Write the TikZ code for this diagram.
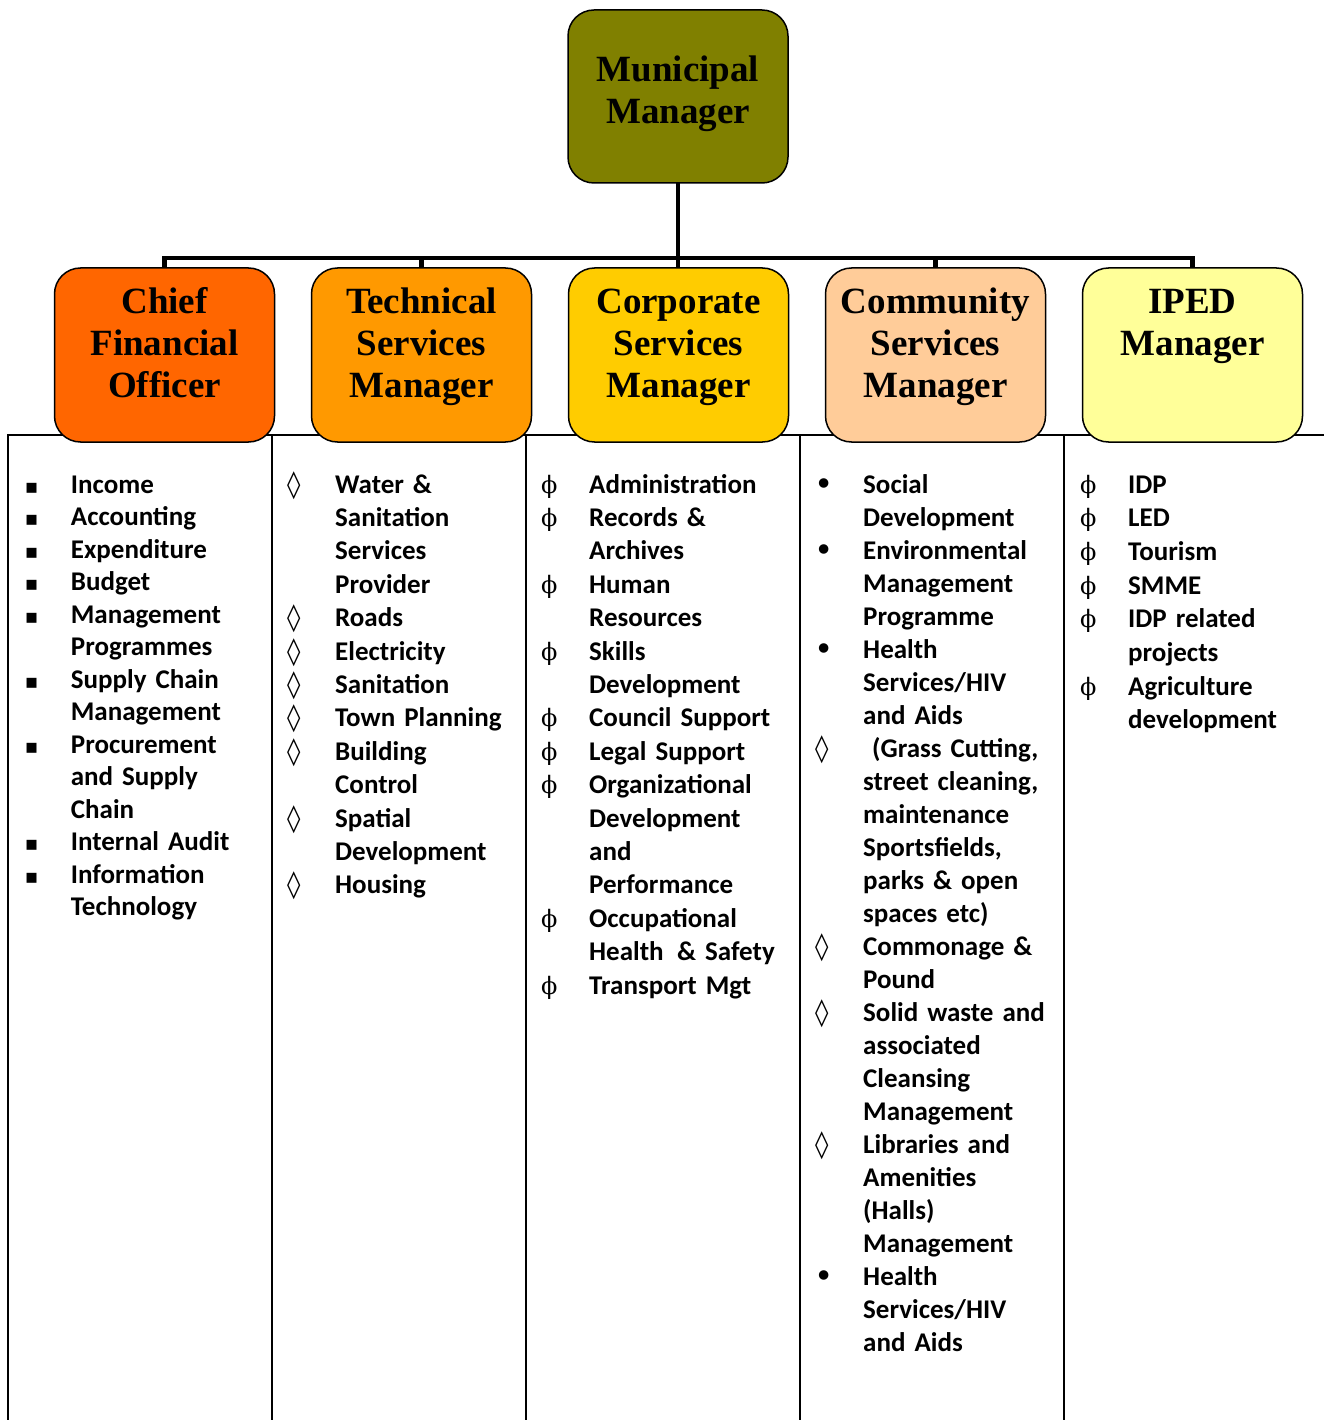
\documentclass[tikz,border=0pt]{standalone}
\usepackage{fontspec}
\setmainfont{Carlito}
\newfontfamily\titlefont{Liberation Serif}
\newfontfamily\symfont{DejaVu Sans}
\newfontfamily\phifont{DejaVu Serif}
\usetikzlibrary{positioning}

\definecolor{mmolive}{HTML}{808000}
\definecolor{cfoorange}{HTML}{FF6600}
\definecolor{tsmorange}{HTML}{FF9900}
\definecolor{csmgold}{HTML}{FFCC00}
\definecolor{cosmpeach}{HTML}{FFCC99}
\definecolor{ipedyellow}{HTML}{FFFF99}

% bullets hang left of the text
\newcommand\bu[2][48pt]{\leavevmode\llap{\makebox[#1][l]{#2}}}
\newcommand\sqb{\bu[46pt]{{\symfont\fontsize{20}{20}\selectfont ▪}}}
\newcommand\lzb{\bu{{\symfont\mdseries ◊}}}
\newcommand\phb{\bu{{\phifont\mdseries\fontsize{24}{24}\selectfont ϕ}}}
\newcommand\dtb{\bu{{\symfont •}}}

\tikzset{
  unit/.style={draw, line width=1.5pt, outer sep=0pt, rounded corners=26pt, minimum width=220pt,
    text width=220pt, inner sep=0pt, align=center, text height=45pt, text depth=129pt,
    font=\titlefont\bfseries\fontsize{37}{42}\selectfont},
  link/.style={line width=4.5pt},
  grid/.style={line width=2.5pt},
  duties/.style={anchor=base west, text width=240pt, align=left, inner sep=0pt}
}

\begin{document}
\begin{tikzpicture}[x=1pt, y=-1pt]
    \useasboundingbox (0,0) rectangle (1324,1420);

    % table under the managers
    \draw[grid] (8,1420) -- (8,435) -- (1324,435);
    \foreach \x in {272, 526, 800, 1064}
        \draw[grid] (\x,435) -- (\x,1420);

    % managers
    \node[unit, fill=mmolive, anchor=north, text height=72pt, text depth=101pt] (mm) at (678,10) {Municipal\\Manager};

    \node[unit, fill=cfoorange, anchor=north] (cfo) at (164.5,268) {Chief\\Financial\\Officer};
    \node[unit, fill=tsmorange, right=37pt of cfo] (tsm) {Technical\\Services\\Manager};
    \node[unit, fill=csmgold, right=37pt of tsm] (csm) {Corporate\\Services\\Manager};
    \node[unit, fill=cosmpeach, right=37pt of csm] (cosm) {Community\\Services\\Manager};
    \node[unit, fill=ipedyellow, right=37pt of cosm] (iped) {IPED\\Manager};

    % reporting lines
    \draw[link] (mm.south) -- (mm.south |- csm.north);
    \draw[link] (cfo.north) -- ++(0,-10) -| (iped.north);
    \foreach \u in {tsm, cosm}
        \draw[link] (\u.north) -- ++(0,-10);

    % duties
    \node[duties, font=\bfseries\fontsize{27}{32.5}\selectfont] (cfolist) at (70.7,493) {%
        \sqb Income\\
        \sqb Accounting\\
        \sqb Expenditure\\
        \sqb Budget\\
        \sqb Management\\ Programmes\\
        \sqb Supply Chain\\ Management\\
        \sqb Procurement\\ and Supply\\ Chain\\
        \sqb Internal Audit\\
        \sqb Information\\ Technology};

    \node[duties, font=\bfseries\fontsize{27}{33.4}\selectfont] (tsmlist) at (335,493) {%
        \lzb Water \&\\ Sanitation\\ Services\\ Provider\\
        \lzb Roads\\
        \lzb Electricity\\
        \lzb Sanitation\\
        \lzb Town Planning\\
        \lzb Building\\ Control\\
        \lzb Spatial\\ Development\\
        \lzb Housing};

    \node[duties, font=\bfseries\fontsize{27}{33.4}\selectfont] (csmlist) at (589,493) {%
        \phb Administration\\
        \phb Records \&\\ Archives\\
        \phb Human\\ Resources\\
        \phb Skills\\ Development\\
        \phb Council Support\\
        \phb Legal Support\\
        \phb Organizational\\ Development\\ and\\ Performance\\
        \phb Occupational\\ Health\ \,\& Safety\\
        \phb Transport Mgt};

    \node[duties, font=\bfseries\fontsize{27}{33}\selectfont] (cosmlist) at (863,493) {%
        \dtb Social\\ Development\\
        \dtb Environmental\\ Management\\ Programme\\
        \dtb Health\\ Services/HIV\\ and Aids\\
        \lzb\ (Grass Cutting,\\ street cleaning,\\ maintenance\\ Sportsfields,\\ parks \& open\\ spaces etc)\\
        \lzb Commonage \&\\ Pound\\
        \lzb Solid waste and\\ associated\\ Cleansing\\ Management\\
        \lzb Libraries and\\ Amenities\\ (Halls)\\ Management\\
        \dtb Health\\ Services/HIV\\ and Aids};

    \node[duties, font=\bfseries\fontsize{27}{33.7}\selectfont] (ipedlist) at (1128,493) {%
        \phb IDP\\
        \phb LED\\
        \phb Tourism\\
        \phb SMME\\
        \phb IDP related\\ projects\\
        \phb Agriculture\\ development};
\end{tikzpicture}
\end{document}
